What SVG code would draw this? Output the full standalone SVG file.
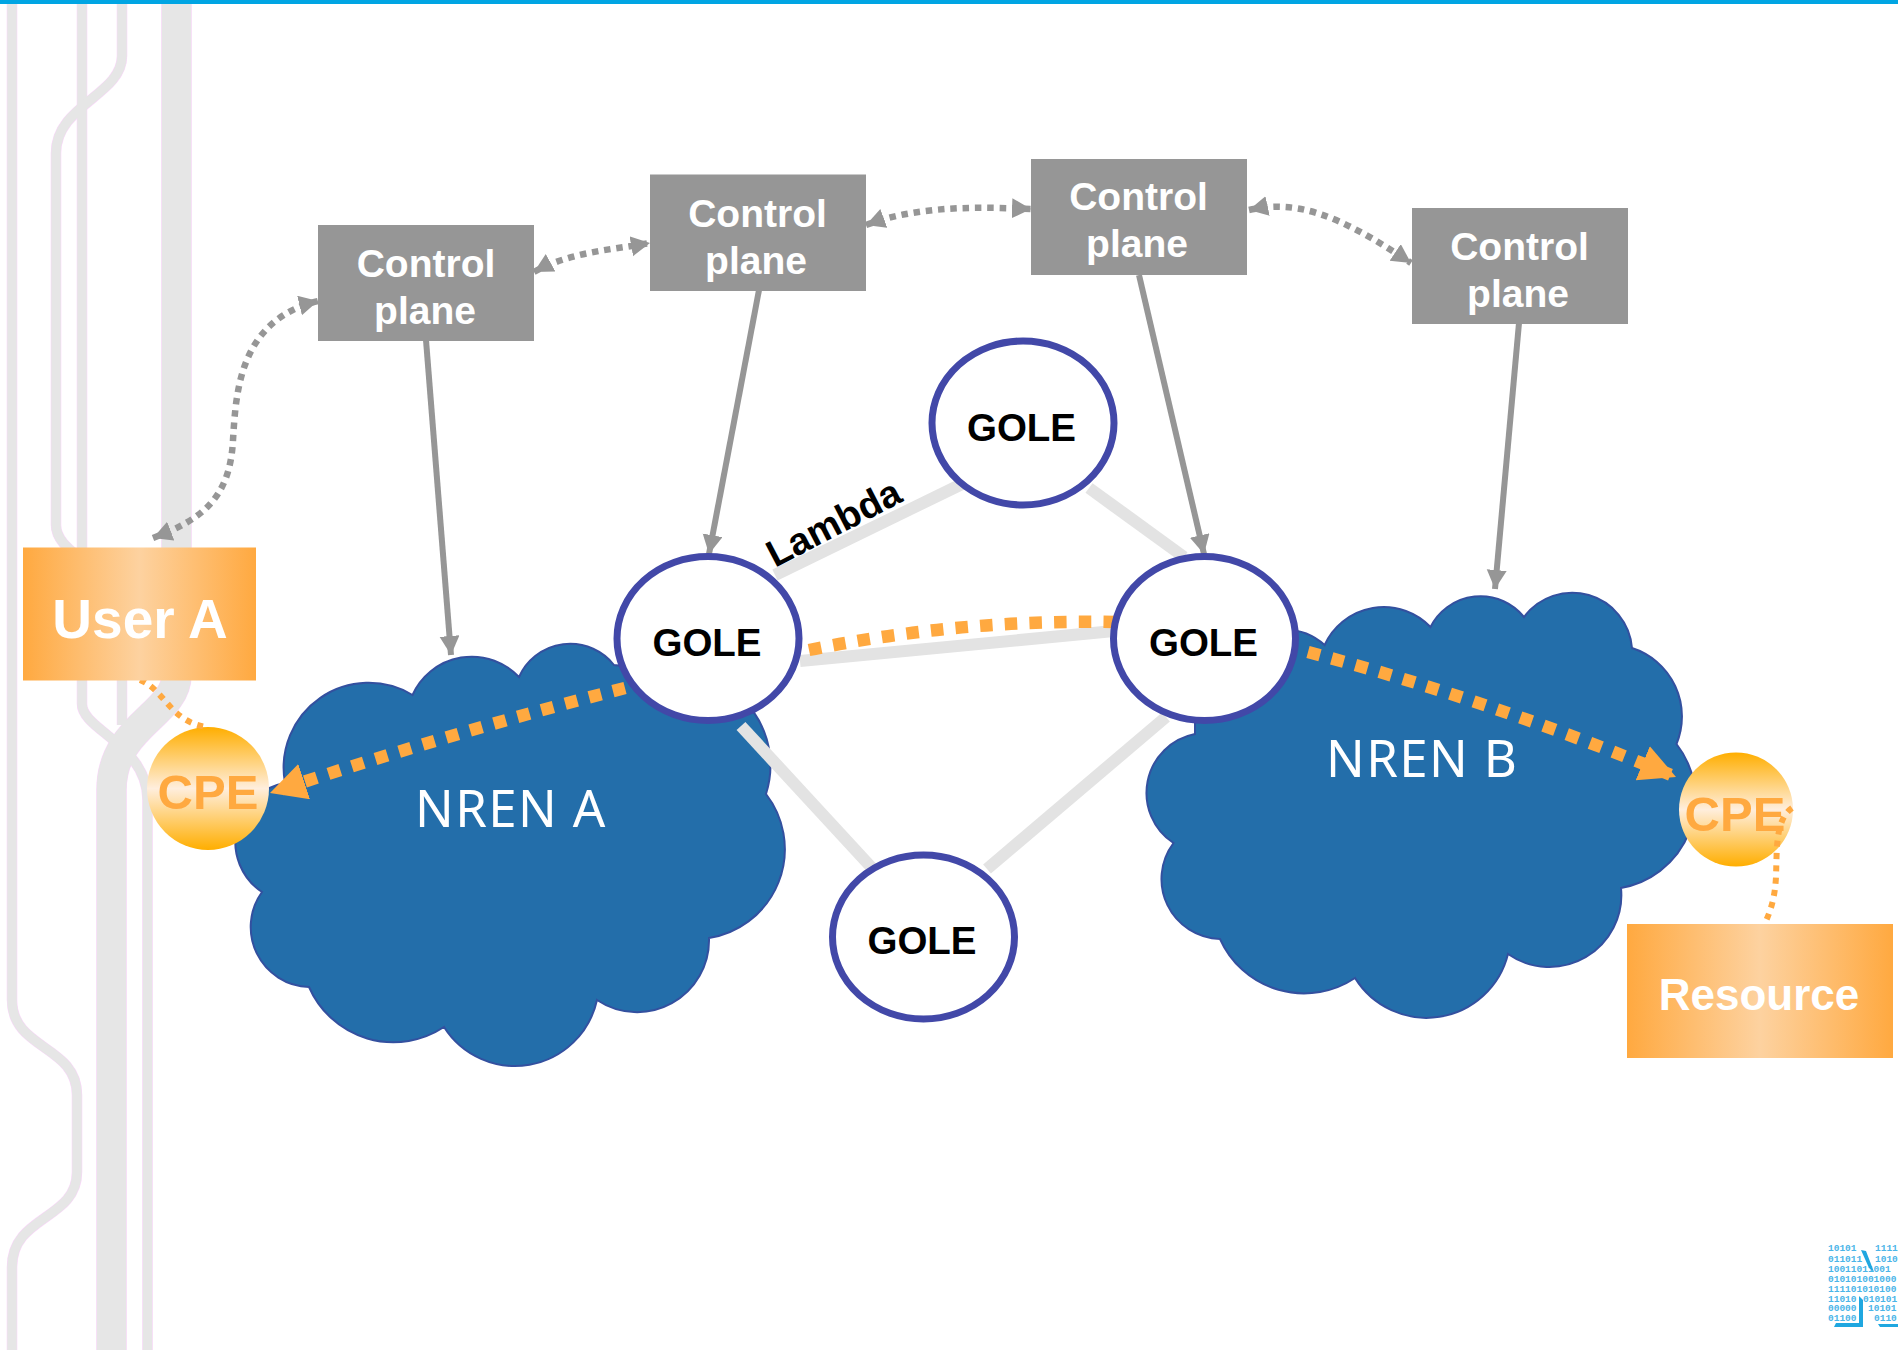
<svg xmlns="http://www.w3.org/2000/svg" width="1898" height="1350" viewBox="0 0 1898 1350">
<style>
text{font-family:"Liberation Sans",Arial,sans-serif}
.tp{fill:none;stroke:#fbd4fb}
.tg{fill:none;stroke:#e6e6e6}
.cloud{fill:#236eaa;stroke:#33509f;stroke-width:2}
.nren{font-family:"Noto Sans",sans-serif;font-size:51px;fill:#fff;letter-spacing:1.400px}
.link{stroke:#e3e3e3;stroke-width:12;fill:none}
.ctl{stroke:#969696;stroke-width:6;fill:none;marker-end:url(#ga)}
.dg{stroke:#969696;stroke-width:6.500;stroke-dasharray:6.500 5.800;fill:none;marker-start:url(#ga);marker-end:url(#ga)}
.do{stroke:#ffa940;stroke-width:12.500;stroke-dasharray:12.500 12.200;fill:none}
.dt{stroke:#ffa940;stroke-width:6;stroke-dasharray:6 6.300;fill:none}
.gole{fill:#fff;stroke:#4248a8;stroke-width:7}
.gt{font-size:38.500px;font-weight:700;fill:#000;text-anchor:middle}
.box{fill:#969696}
.bt{font-size:39px;font-weight:700;fill:#fff;text-anchor:middle}
.cpet{font-size:49px;font-weight:700;fill:#ffa940;text-anchor:middle}
.bin{font-family:"Liberation Mono",monospace;font-size:9.500px;font-weight:700;fill:#4ab5e8}
</style>
<defs>
<marker id="ga" markerUnits="userSpaceOnUse" markerWidth="21" markerHeight="21" refX="19" refY="10" orient="auto-start-reverse"><path d="M0,0L19,10L0,20z" fill="#969696"/></marker>
<marker id="oa" markerUnits="userSpaceOnUse" markerWidth="40" markerHeight="40" refX="36" refY="18.500" orient="auto"><path d="M0,0L36,18.500L0,37z" fill="#ffa940"/></marker>
<linearGradient id="hg" x1="0" x2="1" y1="0" y2="0"><stop offset="0" stop-color="#ffa940"/><stop offset=".5" stop-color="#fdd2a0"/><stop offset="1" stop-color="#ffa940"/></linearGradient>
<linearGradient id="vg" x1="0" x2="0" y1="0" y2="1"><stop offset="0" stop-color="#ffae00"/><stop offset=".5" stop-color="#ffeedd"/><stop offset="1" stop-color="#ffae00"/></linearGradient>
</defs>
<rect width="1898" height="1350" fill="#fff"/>
<g id="tracks">
<g class="tp">
<path stroke-width="10.500" d="M12,4V1000C12,1050 77,1045 77,1095V1172C77,1220 12,1215 12,1267V1350"/>
<path stroke-width="10.500" d="M82,4V704C82,730 147.500,745 147.500,800V1350"/>
<path stroke-width="10.500" d="M122,4V56C122,95 56,105 56,153V525C56,540 70,550 82,560"/>
<path stroke-width="10.500" d="M122,680V725"/>
<path stroke-width="30.500" d="M176.500,4V675C176.500,715 111.500,725 111.500,790V1350"/>
</g>
<g class="tg">
<path stroke-width="9.500" d="M12,4V1000C12,1050 77,1045 77,1095V1172C77,1220 12,1215 12,1267V1350"/>
<path stroke-width="9.500" d="M82,4V704C82,730 147.500,745 147.500,800V1350"/>
<path stroke-width="9.500" d="M122,4V56C122,95 56,105 56,153V525C56,540 70,550 82,560"/>
<path stroke-width="9.500" d="M122,680V725"/>
<path stroke-width="29.500" d="M176.500,4V675C176.500,715 111.500,725 111.500,790V1350"/>
</g>
</g>
<rect id="top-bar" width="1898" height="4" fill="#00a5e3"/>
<g id="nren-a">
<path class="cloud" d="M412.500,695A65,65 0 0 1 519,677A56,56 0 0 1 614,665L680,672A93.500,93.500 0 0 1 766,794A90,90 0 0 1 709,938A72,72 0 0 1 597,1000A84,84 0 0 1 444,1027A92,92 0 0 1 309,987A60,60 0 0 1 262,892A60,60 0 0 1 285,783A85,85 0 0 1 412.500,695Z"/>
<text class="nren" x="415" y="826.500">NREN A</text>
</g>
<g id="nren-b">
<path class="cloud" d="M1324.600,645A65,65 0 0 1 1430.500,627A56,56 0 0 1 1524,617A60,60 0 0 1 1632,648A72,72 0 0 1 1676.500,744A90,90 0 0 1 1621,888A72,72 0 0 1 1508,954A84,84 0 0 1 1355,978A92,92 0 0 1 1220,939A60,60 0 0 1 1173.500,843A60,60 0 0 1 1195,734V700L1280,630A60,60 0 0 1 1324.600,645Z"/>
<text class="nren" x="1326" y="776.500">NREN B</text>
</g>
<g id="cpe-a">
<ellipse cx="208" cy="788.500" rx="61" ry="61.500" fill="url(#vg)"/>
<text class="cpet" x="208" y="808.500">CPE</text>
</g>
<g id="cpe-b">
<ellipse cx="1736" cy="809.500" rx="57" ry="57" fill="url(#vg)"/>
<text class="cpet" x="1735" y="831">CPE</text>
</g>
<g id="connectors">
<path class="link" d="M775,575L962,484"/>
<path class="link" d="M1089,488L1184,557"/>
<path class="link" d="M800,661L1114,631"/>
<path class="link" d="M741,726L872,868"/>
<path class="link" d="M987,869L1166,717"/>
<path class="ctl" d="M426,340L451,655"/>
<path class="ctl" d="M759,290L709,554"/>
<path class="ctl" d="M1139,275L1204,554"/>
<path class="ctl" d="M1519,323L1495,589"/>
<path class="dg" d="M153,538C200,520 230,500 233,440C236,390 240,320 318,301"/>
<path class="dg" d="M534,272C570,252 610,250 650,243"/>
<path class="dg" d="M866,225C920,205 980,207 1031,209"/>
<path class="dg" d="M1249,210C1295,200 1335,212 1411,263"/>
<path class="do" d="M625,688Q450,733 270,793" marker-end="url(#oa)"/>
<path class="do" d="M809,650Q960,619 1115,622"/>
<path class="do" d="M1308,652Q1490,700 1676,777" marker-end="url(#oa)"/>
<path class="dt" d="M140,680C165,690 170,722 207,727"/>
<path class="dt" d="M1792,808C1775,820 1777,850 1776,877C1775,895 1772,908 1765,923"/>
</g>
<g id="gole-top"><ellipse class="gole" cx="1023" cy="423" rx="91" ry="82"/><text class="gt" x="1021.500" y="441">GOLE</text></g>
<g id="gole-left"><ellipse class="gole" cx="708" cy="638.500" rx="91" ry="82"/><text class="gt" x="707" y="656">GOLE</text></g>
<g id="gole-right"><ellipse class="gole" cx="1204.500" cy="638.500" rx="91" ry="82"/><text class="gt" x="1203.500" y="656">GOLE</text></g>
<g id="gole-bottom"><ellipse class="gole" cx="923.500" cy="937" rx="91" ry="82"/><text class="gt" x="922" y="954">GOLE</text></g>
<text id="lambda" x="775" y="568" transform="rotate(-27.500 775 568)" font-size="38" font-weight="700">Lambda</text>
<g id="control-1"><rect class="box" x="318" y="225" width="216" height="116"/><text class="bt" x="426" y="277">Control</text><text class="bt" x="425" y="324">plane</text></g>
<g id="control-2"><rect class="box" x="650" y="174.500" width="216" height="116.500"/><text class="bt" x="757.500" y="227">Control</text><text class="bt" x="756" y="274">plane</text></g>
<g id="control-3"><rect class="box" x="1031" y="159" width="216" height="116"/><text class="bt" x="1138.500" y="210">Control</text><text class="bt" x="1137" y="257">plane</text></g>
<g id="control-4"><rect class="box" x="1412" y="208" width="216" height="116"/><text class="bt" x="1519.500" y="260">Control</text><text class="bt" x="1518" y="307">plane</text></g>
<g id="user-a"><rect x="23" y="547.500" width="233" height="133" fill="url(#hg)"/><text x="140" y="638" font-size="55" font-weight="700" fill="#fff" text-anchor="middle">User A</text></g>
<g id="resource"><rect x="1627" y="924" width="266" height="134" fill="url(#hg)"/><text x="1759" y="1010" font-size="44" font-weight="700" fill="#fff" text-anchor="middle">Resource</text></g>
<g id="logo">
<text class="bin" x="1828" y="1251">10101</text><text class="bin" x="1875" y="1251">1111</text>
<text class="bin" x="1828" y="1262">011011</text><text class="bin" x="1875" y="1262">1010</text>
<text class="bin" x="1828" y="1272">10011011001</text>
<text class="bin" x="1828" y="1282">010101001000</text>
<text class="bin" x="1828" y="1292">111101010100</text>
<text class="bin" x="1828" y="1302">11010</text><text class="bin" x="1863" y="1302">010101</text>
<text class="bin" x="1828" y="1311">00000</text><text class="bin" x="1868" y="1311">10101</text>
<text class="bin" x="1828" y="1321">01100</text><text class="bin" x="1874" y="1321">0110</text>
<path fill="#1fa7e0" d="M1861,1250L1866,1251L1874,1272L1869,1268ZM1859,1296L1863,1300V1327H1834L1836,1323H1859ZM1878,1324H1898V1327H1880Z"/>
</g>
</svg>
